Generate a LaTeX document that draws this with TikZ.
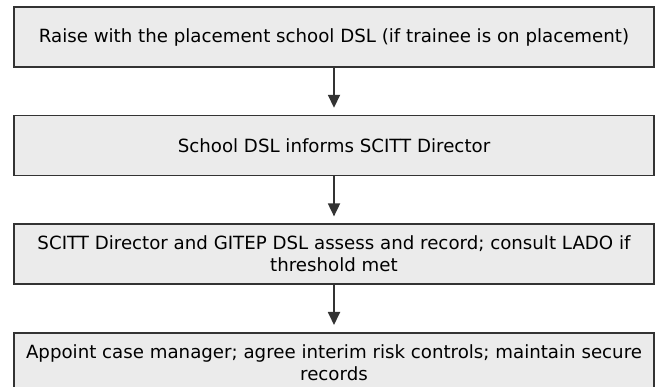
\documentclass[tikz,border=0pt]{standalone}
\usepackage{fontspec}
\setmainfont{DejaVu Sans}
\usetikzlibrary{positioning,arrows.meta}
\definecolor{boxfill}{HTML}{EBEBEB}
\definecolor{boxline}{HTML}{333333}
\tikzset{ stage/.style = { rectangle
                         , draw = boxline
                         , fill = boxfill
                         , line width    = 1.6pt
                         , minimum width = 640pt
                         , minimum height = 60pt
                         , inner sep     = 0pt
                         , align         = center
                         , font = \fontsize{18.2}{22}\selectfont
                         },
          flow/.style = { draw = boxline
                        , line width = 1.8pt
                        , -{Triangle[length=13pt,width=12pt]}
                        , shorten > = 7pt
                        }
        }

\begin{document}
\begin{tikzpicture}[x=1pt, y=1pt, node distance=47pt]
            \clip (0,0) rectangle (662,-387);
            \node[stage] (raise) at (334,-37)
                {Raise with the placement school DSL (if trainee is on placement)};
            \node[stage, below=of raise] (inform)
                {School DSL informs SCITT Director};
            \node[stage, below=of inform] (assess)
                {SCITT Director and GITEP DSL assess and record; consult LADO if\\threshold met};
            \node[stage, below=of assess] (appoint)
                {Appoint case manager; agree interim risk controls; maintain secure\\records};
            %arrows between the stages
            \path[flow] (raise) -- (inform);
            \path[flow] (inform) -- (assess);
            \path[flow] (assess) -- (appoint);
\end{tikzpicture}
\end{document}
